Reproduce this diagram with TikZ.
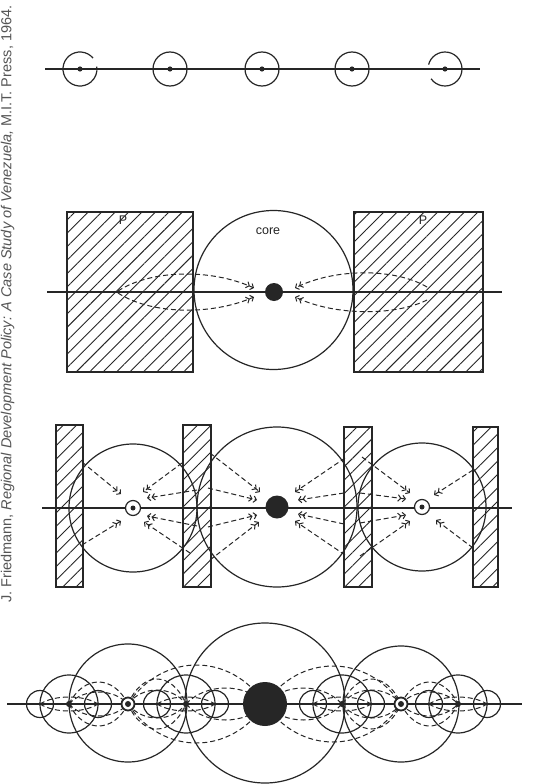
\documentclass[tikz,border=0pt]{standalone}
\usepackage{fontspec}
\setmainfont{Liberation Sans}
\usetikzlibrary{patterns.meta,arrows.meta}
\definecolor{ink}{HTML}{262626}
\definecolor{captxt}{HTML}{555555}
\tikzset{
  ln/.style={draw=ink,line width=1.2pt},
  dsh/.style={draw=ink,line width=1pt,dash pattern=on 5pt off 3pt},
  arr/.style={dsh,-{Straight Barb[length=2.8pt,width=6.5pt,sep=0.6pt]Straight Barb[length=2.8pt,width=6.5pt]}},
  hatch/.style={draw=ink,line width=1.2pt,pattern={Lines[angle=45,distance=9.5pt,line width=0.9pt]},pattern color=ink},
  dotf/.style={fill=ink},
  lbl/.style={text=ink,inner sep=0pt,font=\fontsize{12.5}{14}\selectfont},
}
\newcommand\lensab[3]{%
  \draw[dsh] (#1,704) .. controls ({#1+(#2-#1)*0.25},{704-#3*4/3}) and ({#2-(#2-#1)*0.25},{704-#3*4/3}) .. (#2,704);
  \draw[dsh] (#1,704) .. controls ({#1+(#2-#1)*0.25},{704+#3*4/3}) and ({#2-(#2-#1)*0.25},{704+#3*4/3}) .. (#2,704);
}
\begin{document}
\begin{tikzpicture}[x=1pt,y=-1pt]
\useasboundingbox (0,0) rectangle (548,784);
\fill[white] (0,0) rectangle (548,784);

% source line
\node[rotate=90,anchor=base west,text=captxt,font=\fontsize{14.5}{17}\selectfont,inner sep=0pt] (src) at (11.5,603)
  {J. Friedmann, \textit{Regional Development Policy: A Case Study of Venezuela,} M.I.T. Press, 1964.};

% ---------- panel 1 ----------
\coordinate (l1a) at (45,69); \coordinate (l1b) at (480,69);
\draw[ln] (l1a) -- (l1b);
\coordinate (p1) at (80,69);
\coordinate (p2) at (170,69);
\coordinate (p3) at (262,69);
\coordinate (p4) at (352,69);
\coordinate (p5) at (445,69);
\draw[ln] ([shift={(-40:17)}]p1) arc[start angle=-40,end angle=-368,radius=17];
\draw[ln] (p2) circle[radius=17];
\draw[ln] (p3) circle[radius=17];
\draw[ln] (p4) circle[radius=17];
\draw[ln] ([shift={(-215:17)}]p5) arc[start angle=-215,end angle=-525,radius=17];
\foreach \p in {p1,p2,p3,p4,p5} \fill[ink] (\p) circle[radius=2.6];

% ---------- panel 2 ----------
\draw[hatch] (67,212) rectangle (193,372);
\draw[hatch] (354,212) rectangle (483,372);
\coordinate (c2) at (273.5,290);
\draw[ln] (c2) circle[radius=79.5];
\draw[ln] (47,292) -- (502,292);
\node[lbl] (core) at (268,231) {core};
\node[lbl] (pl) at (123,220) {P};
\node[lbl] (pr) at (423,220) {P};
\draw[arr] (118,291) .. controls (150,270) and (210,268) .. (254,288);
\draw[arr] (118,293) .. controls (150,314) and (210,316) .. (254,297);
\draw[arr] (427,287) .. controls (395,268) and (335,268) .. (295,288);
\draw[arr] (427,300) .. controls (395,316) and (335,316) .. (295,297);
\fill[ink] (274,292) circle[radius=9];

% ---------- panel 3 ----------
\draw[hatch] (56,425) rectangle (83,587);
\draw[hatch] (183,425) rectangle (211,587);
\draw[hatch] (344,427) rectangle (372,587);
\draw[hatch] (473,427) rectangle (498,587);
\draw[ln] (42,508) -- (512,508);
\coordinate (L) at (133,508);
\coordinate (C) at (277,507);
\coordinate (R) at (422,507);
\draw[ln] (L) circle[radius=64];
\draw[ln] (C) circle[radius=80];
\draw[ln] (R) circle[radius=64];
% toward L
\draw[arr] (82,462) -- (121,494);
\draw[arr] (82,545) -- (121,521);
\draw[arr] (182,463) -- (143,492);
\draw[arr] (197,490) -- (147,498);
\draw[arr] (197,526) -- (147,516);
\draw[arr] (190,553) -- (144,522);
% toward C
\draw[arr] (210,453) -- (260,492);
\draw[arr] (208,488) -- (257,500);
\draw[arr] (208,527) -- (257,515);
\draw[arr] (210,560) -- (259,522);
\draw[arr] (345,458) -- (295,492);
\draw[arr] (344,493) -- (298,500);
\draw[arr] (344,524) -- (298,514);
\draw[arr] (345,555) -- (295,521);
% toward R
\draw[arr] (362,457) -- (410,493);
\draw[arr] (360,493) -- (406,499);
\draw[arr] (360,523) -- (406,515);
\draw[arr] (360,556) -- (410,521);
\draw[arr] (473,470) -- (434,495);
\draw[arr] (473,548) -- (436,520);
\fill[ink] (C) circle[radius=11.5];
\foreach \p in {L,R}{
  \draw[ln,fill=white] (\p) circle[radius=7.5];
  \fill[ink] (\p) circle[radius=2.5];
}

% ---------- panel 4 ----------
\draw[ln] (7,704) -- (522,704);
\lensab{128}{265}{39}
\lensab{186}{265}{16}
\lensab{128}{186}{25}
\lensab{128}{186}{14}
\lensab{69}{128}{22}
\lensab{69}{128}{12}
\lensab{40}{98}{7}
\lensab{157}{215}{7}
\lensab{265}{401}{38}
\lensab{265}{342}{16}
\lensab{342}{401}{25}
\lensab{342}{401}{14}
\lensab{401}{458}{22}
\lensab{401}{458}{12}
\lensab{313}{371}{7}
\lensab{429}{487}{7}
\coordinate (K) at (265,703);
\draw[ln] (K) circle[radius=80];
\draw[ln] (128,703) circle[radius=59];
\draw[ln] (401,704) circle[radius=58];
\foreach \x in {69,186,342,458}{
  \draw[ln] (\x,704) circle[radius=29];
  \fill[ink] (\x,704) circle[radius=3];
}
\foreach \x in {40,98,157,215,313,371,429,487}{
  \draw[ln] (\x,704) circle[radius=13.5];
  \fill[ink] (\x,704) circle[radius=1.4];
}
\fill[ink] (265,704) circle[radius=22];
\foreach \x in {128,401}{
  \draw[ink,line width=1.8pt,fill=white] (\x,704) circle[radius=6.5];
  \fill[ink] (\x,704) circle[radius=3];
}
\end{tikzpicture}
\end{document}
